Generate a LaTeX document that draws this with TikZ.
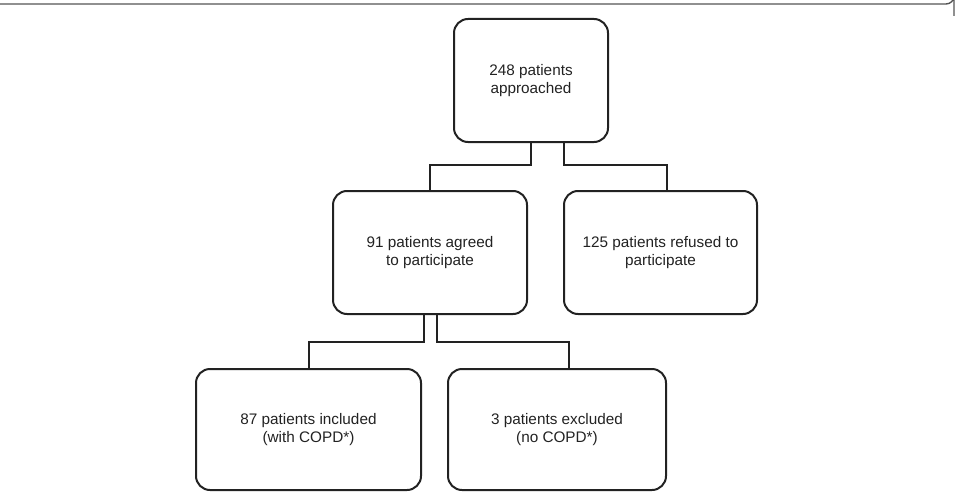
\documentclass[tikz,border=0pt]{standalone}
\usepackage{fontspec}
\setmainfont{Liberation Sans}
\definecolor{ink}{HTML}{222222}
\definecolor{framegray}{HTML}{555555}
\begin{document}
\begin{tikzpicture}[x=1pt,y=-1pt,
  box/.style={draw=ink, line width=2pt, rounded corners=14pt, inner sep=0pt,
    align=center, text=ink, font=\fontsize{15.3}{17.5}\selectfont},
  link/.style={draw=ink, line width=2pt}]
  \useasboundingbox (0,0) rectangle (957,492);
  % top edge of the surrounding frame
  \draw[framegray, line width=1.4pt] (0,4) -- (946,4) arc[start angle=90, end angle=0, radius=8] -- (954,16);

  \node[box, minimum width=154pt, minimum height=123pt] (top) at (531,80.5)
    {248 patients\\approached};
  \node[box, minimum width=194pt, minimum height=123pt] (ml) at (430,252.5)
    {91 patients agreed\\to participate};
  \node[box, minimum width=193pt, minimum height=123pt] (mr) at (660.5,252.5)
    {125 patients refused to\\participate};
  \node[box, minimum width=225pt, minimum height=121pt] (bl) at (308.5,429.5)
    {87 patients included\\(with COPD*)};
  \node[box, minimum width=218pt, minimum height=121pt] (br) at (557,429.5)
    {3 patients excluded\\(no COPD*)};

  \draw[link] (top.south) -- ++(0,22) -| (ml.north);
  \draw[link] ([xshift=33pt]top.south) -- ++(0,22) -| ([xshift=6pt]mr.north);
  \draw[link] ([xshift=-6.5pt]ml.south) -- ++(0,27) -| (bl.north);
  \draw[link] ([xshift=6.5pt]ml.south) -- ++(0,27) -| ([xshift=12pt]br.north);
\end{tikzpicture}
\end{document}
